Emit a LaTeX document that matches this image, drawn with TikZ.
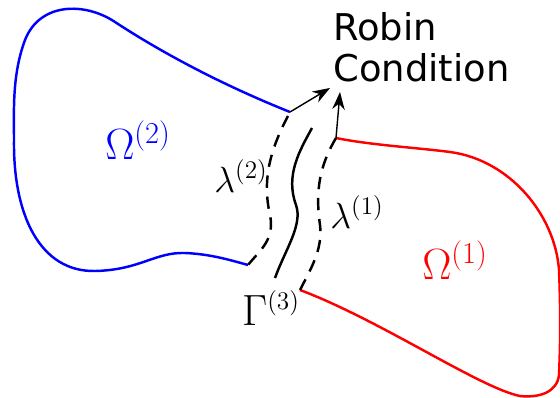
\documentclass[tikz,border=0pt]{standalone}
\usepackage{fontspec}
\newfontfamily\labelfont{DejaVu Sans}
\usepackage{tikz}
\usetikzlibrary{positioning,arrows.meta,calc}
\definecolor{domblue}{RGB}{0,0,255}
\definecolor{domred}{RGB}{255,0,0}
\tikzset{
  bound/.style={line width=1.4pt},
  iface/.style={line width=1.4pt, dashed, dash pattern=on 7pt off 5pt},
  ptr/.style={-{Stealth[length=3.5mm,width=2.5mm]}, line width=0.8pt},
  dom/.style={font=\fontsize{26}{28}\selectfont},
  mult/.style={font=\fontsize{20}{22}\selectfont},
  note/.style={font=\labelfont\fontsize{21}{23.3}\selectfont, align=left}
}

\begin{document}
\begin{tikzpicture}[x=0.02cm, y=-0.02cm]
  \useasboundingbox (0,0) rectangle (560,398);
  % subdomains
  \coordinate (b0) at (290,112);
  \coordinate (b1) at (248,265);
  \coordinate (r0) at (336,138);
  \coordinate (r1) at (300,290);
  \draw[bound, domblue] (b0) .. controls (210,80) and (150,45) .. (115,22)
        .. controls (85,2) and (40,2) .. (25,40)
        .. controls (12,75) and (14,110) .. (14,140)
        .. controls (13,215) and (40,272) .. (95,271)
        .. controls (140,270) and (155,252) .. (185,253)
        .. controls (210,254) and (230,260) .. (b1);
  \draw[bound, domred] (r0) .. controls (370,145) and (420,148) .. (450,152)
        .. controls (510,160) and (555,215) .. (559,270)
        .. controls (561,320) and (560,350) .. (559,375)
        .. controls (557,392) and (540,398) .. (520,396)
        .. controls (480,388) and (380,320) .. (r1);
  % interface and its two sides
  \coordinate (l0) at (288,116);
  \coordinate (g0) at (312,128);
  \coordinate (g1) at (275,278);
  \draw[iface] (l0) .. controls (270,150) and (262,180) .. (270,215)
        .. controls (275,240) and (260,250) .. (b1);
  \draw[bound] (g0) .. controls (300,150) and (285,175) .. (296,205)
        .. controls (303,225) and (285,250) .. (g1);
  \draw[iface] (r0) .. controls (320,165) and (315,190) .. (320,225)
        .. controls (323,250) and (310,270) .. (r1);
  % labels
  \node[dom, text=domblue] (om2) at (138,140) {$\Omega^{(2)}$};
  \node[dom, text=domred] (om1) at (455,260) {$\Omega^{(1)}$};
  \node[mult] (lam2) at (241,176) {$\lambda^{(2)}$};
  \node[mult] (lam1) at (357,212) {$\lambda^{(1)}$};
  \node[font=\fontsize{29}{31}\selectfont] (gam) at (271,308) {$\Gamma^{\scriptscriptstyle(3)}$};
  \node[note, anchor=north west, inner sep=0pt] (robin) at (333,12) {Robin\\Condition};
  \draw[ptr] (b0) -- (330,88);
  \draw[ptr] (r0) -- (340,92);
\end{tikzpicture}
\end{document}
